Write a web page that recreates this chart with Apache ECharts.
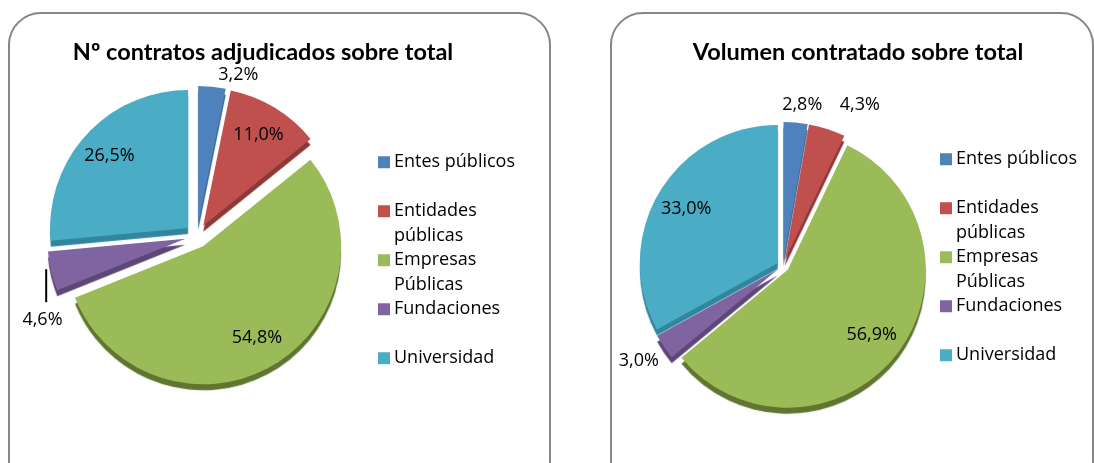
<!DOCTYPE html>
<html>
<head>
<meta charset="utf-8">
<script src="https://cdn.jsdelivr.net/npm/echarts@6/dist/echarts.min.js"></script>
<style>
html, body { margin: 0; padding: 0; background: #fff; }
#main { width: 1094px; height: 463px; }
</style>
</head>
<body>
<div id="main"></div>
<script>
// datos
var categorias = ['Entes públicos', 'Entidades públicas', 'Empresas Públicas', 'Fundaciones', 'Universidad'];
var leyenda = [['Entes públicos', ' '], ['Entidades', 'públicas'], ['Empresas', 'Públicas'], ['Fundaciones', ' '], ['Universidad', ' ']];
var contratos = [3.2, 11.0, 54.8, 4.6, 26.5];   // Nº contratos adjudicados
var volumen = [2.8, 4.3, 56.9, 3.0, 33.0];      // Volumen contratado
var posContratos = ['outside', 'inside', 'inside', 'outside', 'inside'];
var posVolumen = ['outside', 'outside', 'inside', 'outside', 'inside'];

var colores = ['#4F81BD', '#C0504D', '#9BBB59', '#8064A2', '#4BACC6'];
var sombras = ['#385D8A', '#8C3836', '#5F7530', '#5C4776', '#31859C'];
var fuente = '"Open Sans", sans-serif';
var fuenteTitulo = 'Lato, "Open Sans", sans-serif';

function fmt(p) {
  return p.value.toFixed(1).replace('.', ',') + '%';
}

function tarta(valores, pos, centro, offset, largos, linea, ajuste) {
  var visible = {
    type: 'pie',
    radius: 138,
    center: centro,
    startAngle: 90,
    clockwise: true,
    selectedMode: 'multiple',
    selectedOffset: offset,
    silent: true,
    animation: false,
    label: { show: false },
    labelLine: { show: false },
    data: valores.map(function (v, i) {
      return {
        name: categorias[i], value: v, selected: true,
        itemStyle: { color: colores[i], shadowColor: sombras[i], shadowOffsetY: 6, shadowBlur: 1 }
      };
    })
  };
  var etiquetas = {
    type: 'pie',
    radius: [69, 138],
    center: centro,
    startAngle: 90,
    clockwise: true,
    selectedMode: 'multiple',
    selectedOffset: offset,
    silent: true,
    animation: false,
    avoidLabelOverlap: false,
    itemStyle: { color: 'rgba(0,0,0,0)' },
    label: { show: true, formatter: fmt, fontFamily: fuente, fontSize: 18, color: '#000' },
    labelLine: { show: false, length2: 0 },
    labelLayout: ajuste,
    data: valores.map(function (v, i) {
      return {
        name: categorias[i], value: v, selected: true,
        label: { position: pos[i] },
        labelLine: { show: i === linea, length: largos[i], lineStyle: { color: '#000', width: 2 } }
      };
    })
  };
  return [visible, etiquetas];
}

// etiqueta de Fundaciones bajo la porción, con guía vertical
function ajusteContratos(p) {
  if (p.dataIndex === 3) {
    var a = p.labelLinePoints[0];
    return {
      dx: 28, dy: 46, hideOverlap: false,
      labelLinePoints: [[a[0] - 5, a[1] - 2], [a[0] - 5, a[1] + 31], [a[0] - 5, a[1] + 31]]
    };
  }
  return { hideOverlap: false };
}
// 2,8% centrada sobre su porción, 3,0% bajo la punta
function ajusteVolumen(p) {
  if (p.dataIndex === 0) return { align: 'center', hideOverlap: false };
  if (p.dataIndex === 3) return { dy: 14, hideOverlap: false };
  return { hideOverlap: false };
}

function leyendaRich() {
  var rich = {
    gap: { width: 4, lineHeight: 24.5 },
    ind: { width: 16, lineHeight: 24.5 },
    t: { fontFamily: fuente, fontSize: 18, color: '#000', lineHeight: 24.5 }
  };
  colores.forEach(function (c, i) {
    rich['c' + i] = { width: 12, height: 12, backgroundColor: c, lineHeight: 24.5 };
  });
  return rich;
}

function leyendaFmt(name) {
  var i = categorias.indexOf(name);
  return '{c' + i + '|}{gap|}{t|' + leyenda[i][0] + '}\n{ind|}{t|' + leyenda[i][1] + '}';
}

var chart = echarts.init(document.getElementById('main'));
var series = tarta(contratos, posContratos, [197, 236], 12, [12, 12, 12, 12, 12], 3, ajusteContratos)
  .concat(tarta(volumen, posVolumen, [783, 266], 6, [18, 25, 20, 0, 20], -1, ajusteVolumen));

chart.setOption({
  animation: false,
  title: [
    { text: 'Nº contratos adjudicados sobre total', left: 258, top: 35, textAlign: 'center',
      textStyle: { fontFamily: fuenteTitulo, fontWeight: 'bold', fontSize: 23.5, color: '#000' } },
    { text: 'Volumen contratado sobre total', left: 853, top: 35, textAlign: 'center',
      textStyle: { fontFamily: fuenteTitulo, fontWeight: 'bold', fontSize: 23.5, color: '#000' } }
  ],
  legend: [
    { orient: 'vertical', left: 368, top: 145, itemWidth: 0, itemHeight: 0, itemGap: 0,
      selectedMode: false, data: categorias, formatter: leyendaFmt,
      textStyle: { rich: leyendaRich(), lineHeight: 24.5 } },
    { orient: 'vertical', left: 930, top: 142, itemWidth: 0, itemHeight: 0, itemGap: 0,
      selectedMode: false, data: categorias, formatter: leyendaFmt,
      textStyle: { rich: leyendaRich(), lineHeight: 24.5 } }
  ],
  graphic: [
    { type: 'rect', z: -10, shape: { x: 9, y: 13, width: 541, height: 480, r: 32 },
      style: { fill: '#fff', stroke: '#868686', lineWidth: 2 } },
    { type: 'rect', z: -10, shape: { x: 611, y: 13, width: 482, height: 480, r: 32 },
      style: { fill: '#fff', stroke: '#868686', lineWidth: 2 } }
  ],
  series: series
});
</script>
</body>
</html>
